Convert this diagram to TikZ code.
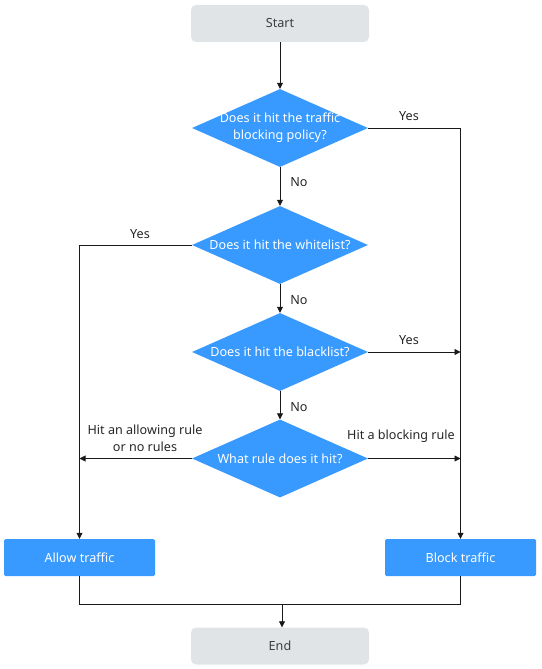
\documentclass[tikz,border=0pt]{standalone}
\usepackage{fontspec}
\setmainfont{Noto Sans}
\usetikzlibrary{shapes.geometric,arrows.meta}
\definecolor{flowblue}{RGB}{56,153,255}
\definecolor{termgray}{RGB}{225,228,230}
\definecolor{txtgray}{RGB}{60,60,60}
\begin{document}
\begin{tikzpicture}[x=1pt,y=-1pt,
  every node/.style={font=\fontsize{12.6}{17}\selectfont},
  term/.style={draw=none,fill=termgray,rounded corners=5pt,minimum width=178pt,minimum height=37pt,text=txtgray,inner sep=0pt},
  decide/.style={diamond,draw=none,fill=flowblue,text=white,minimum width=176pt,minimum height=78pt,aspect=2.26,inner sep=0pt,align=center},
  action/.style={draw=none,fill=flowblue,rounded corners=1.5pt,minimum width=151pt,minimum height=37pt,text=white,inner sep=0pt},
  conn/.style={draw=black!90,line width=0.8pt},
  arr/.style={conn,-{Triangle[width=6pt,length=6pt]}},
  lbl/.style={text=black!85,inner sep=0pt,align=center}]
\useasboundingbox (0,0) rectangle (541,669);
\node[term] (start) at (280,23.5) {Start};
\node[decide,label={[text=white,align=center,inner sep=0pt]center:Does it hit the traffic\\blocking policy?}] (d1) at (280,128) {};
\node[decide] (d2) at (280,245) {Does it hit the whitelist?};
\node[decide] (d3) at (280,352) {Does it hit the blacklist?};
\node[decide] (d4) at (280,458.5) {What rule does it hit?};
\node[action] (allow) at (79.5,557.5) {Allow traffic};
\node[action] (block) at (460.5,557.5) {Block traffic};
\node[term] (end) at (280,646) {End};
\coordinate (yr1) at (460.5,128);
\coordinate (yl2) at (79.5,245);
\coordinate (yr3) at (460.5,352);
\coordinate (yl4) at (79.5,458.5);
\coordinate (yr4) at (460.5,458.5);
\coordinate (ml) at (79.5,604);
\coordinate (mr) at (460.5,604);
\coordinate (mm) at (282,604);
\draw[arr] (start) -- (d1);
\draw[arr] (d1) -- (d2) node[lbl,pos=0.38,right=10pt] {No};
\draw[arr] (d2) -- (d3) node[lbl,pos=0.55,right=10pt] {No};
\draw[arr] (d3) -- (d4) node[lbl,pos=0.57,right=10pt] {No};
\draw[arr] (d1.east) -- (yr1) -- (block.north);
\node[lbl] at (409,116) {Yes};
\draw[arr] (d2.west) -- (yl2) -- (allow.north);
\node[lbl] at (140,234) {Yes};
\draw[arr] (d3.east) -- (yr3);
\node[lbl] at (409,340) {Yes};
\draw[arr] (d4.west) -- (yl4);
\node[lbl] at (145,438.5) {Hit an allowing rule\\or no rules};
\draw[arr] (d4.east) -- (yr4);
\node[lbl] at (401,436) {Hit a blocking rule};
\draw[conn] (allow.south) -- (ml) -- (mr) -- (block.south);
\draw[arr] (mm) -- (end.north -| mm);
\end{tikzpicture}
\end{document}
